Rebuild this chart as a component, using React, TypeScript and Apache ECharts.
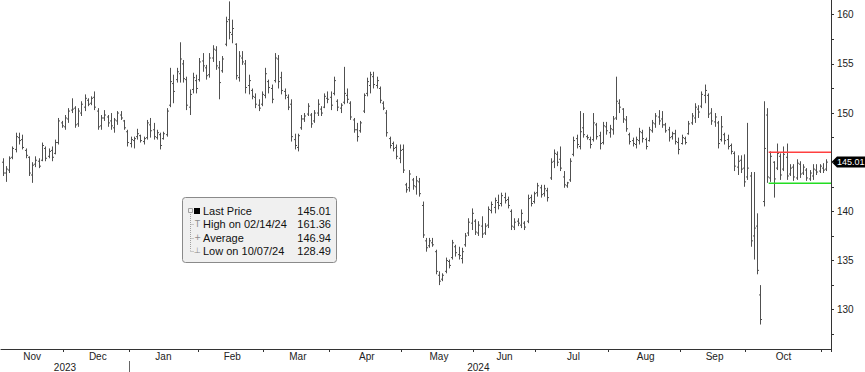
import React, { useEffect, useRef } from 'react';
import * as echarts from 'echarts';

// ---- Data ----
const START_DATE = '2023-11-03';
const END_DATE = '2024-11-04';
const HOLIDAYS = ['2023-11-23', '2023-12-25', '2024-01-01', '2024-01-15', '2024-02-19', '2024-03-29', '2024-05-27', '2024-06-19', '2024-07-04', '2024-09-02'];
const MONTHS = ['Jan', 'Feb', 'Mar', 'Apr', 'May', 'Jun', 'Jul', 'Aug', 'Sep', 'Oct', 'Nov', 'Dec'];

const OPEN = [
  145.0, 143.9, 144.2, 145.5, 146.3, 147.5, 147.3, 146.2, 145.5, 143.7,
  144.8, 145.1, 145.2, 146.4, 145.6, 146.2, 145.9, 147.0, 149.0, 148.6,
  149.4, 150.3, 150.5, 148.9, 150.0, 150.6, 151.3, 151.0, 151.6, 150.2,
  148.7, 149.5, 149.6, 149.2, 148.5, 149.2, 149.8, 149.2, 148.1, 146.9,
  147.2, 147.6, 147.7, 147.1, 147.5, 148.8, 148.3, 147.5, 147.8, 147.4,
  147.8, 150.8, 153.0, 153.4, 154.0, 155.0, 153.4, 150.6, 152.4, 153.3,
  153.4, 155.3, 154.6, 153.9, 155.6, 156.4, 154.6, 154.3, 157.0, 159.5,
  158.0, 157.0, 153.6, 155.6, 155.0, 152.8, 152.3, 151.6, 150.8, 150.9,
  151.8, 153.2, 152.5, 153.3, 155.5, 153.6, 152.2, 151.6, 150.9, 147.3,
  146.5, 148.5, 149.4, 149.9, 149.8, 149.2, 150.0, 150.4, 150.6, 151.5,
  151.6, 152.0, 151.2, 150.5, 151.1, 151.8, 151.0, 149.3, 148.3, 148.2,
  150.2, 152.0, 152.8, 153.7, 152.8, 152.5, 151.0, 150.0, 147.4, 146.9,
  146.5, 145.4, 146.3, 142.7, 142.4, 143.2, 142.5, 143.0, 140.6, 137.0,
  136.5, 136.8, 135.9, 133.5, 133.1, 133.9, 134.9, 135.3, 136.4, 135.6,
  135.2, 136.6, 137.8, 138.8, 139.0, 137.8, 138.5, 137.8, 138.6, 140.1,
  140.4, 140.9, 140.8, 141.4, 141.2, 140.0, 138.4, 139.0, 138.6, 138.8,
  139.0, 141.4, 141.0, 141.9, 142.4, 141.8, 142.1, 143.4, 145.1, 145.8,
  145.3, 143.5, 142.6, 143.2, 145.8, 147.4, 146.6, 148.5, 147.6, 147.3,
  147.3, 148.8, 147.7, 147.0, 148.6, 148.0, 148.3, 149.5, 151.0, 150.4,
  149.3, 147.8, 147.2, 146.8, 147.2, 148.0, 147.3, 147.2, 148.2, 148.9,
  149.6, 149.4, 148.8, 148.3, 147.6, 147.9, 147.0, 146.9, 147.4, 147.9,
  149.0, 149.5, 150.4, 150.7, 151.8, 151.8, 150.0, 149.1, 149.0, 147.3,
  147.8, 147.3, 146.7, 145.9, 144.5, 145.2, 144.4, 143.5, 143.6, 137.5,
  138.5, 131.5, 141.0, 149.8, 143.4, 145.0, 144.4, 145.6, 144.3, 145.5,
  143.8, 144.5, 143.4, 144.8, 143.9, 144.2, 143.3, 143.6, 144.2, 144.1,
  144.4, 144.3,
];

const HIGH = [
  145.4, 144.6, 145.6, 146.6, 148.0, 148.0, 147.8, 146.4, 145.6, 145.0,
  145.6, 145.4, 147.0, 146.6, 146.4, 146.6, 147.3, 149.5, 149.2, 149.8,
  150.5, 151.5, 150.7, 150.5, 151.2, 151.9, 151.5, 151.7, 152.2, 150.5,
  149.8, 150.3, 149.8, 150.0, 149.5, 150.2, 150.2, 149.3, 148.3, 147.6,
  147.6, 148.4, 147.8, 147.6, 149.3, 149.5, 149.0, 148.3, 148.0, 148.1,
  150.5, 154.6, 153.9, 154.6, 157.2, 155.4, 153.7, 152.4, 154.1, 153.9,
  155.6, 156.1, 154.9, 156.1, 156.9, 156.8, 155.3, 155.8, 159.8, 161.36,
  159.5, 157.1, 156.3, 156.3, 155.4, 153.9, 152.5, 152.0, 151.4, 152.2,
  154.6, 153.4, 152.9, 156.1, 155.9, 154.2, 152.5, 151.9, 151.4, 147.9,
  147.9, 149.8, 150.0, 151.0, 150.0, 150.3, 151.4, 150.7, 152.0, 152.2,
  152.2, 153.7, 151.4, 151.0, 154.7, 152.5, 151.2, 149.5, 149.0, 149.2,
  152.0, 153.6, 154.2, 154.2, 153.7, 152.7, 151.2, 150.3, 147.6, 147.1,
  146.8, 146.8, 146.8, 142.9, 144.2, 143.4, 143.6, 143.4, 141.0, 137.3,
  137.3, 137.3, 136.1, 133.9, 133.7, 135.3, 135.1, 137.1, 136.6, 136.4,
  136.3, 137.8, 139.3, 140.3, 139.2, 139.0, 139.5, 138.8, 140.5, 141.0,
  141.4, 141.7, 141.9, 141.9, 141.5, 140.2, 139.3, 139.3, 140.2, 139.0,
  141.7, 141.7, 142.0, 142.9, 142.7, 142.7, 142.4, 145.4, 146.3, 146.1,
  146.6, 144.1, 143.0, 145.4, 147.6, 147.8, 150.2, 150.0, 147.8, 147.6,
  150.0, 149.0, 148.1, 149.1, 149.1, 148.8, 149.7, 153.7, 151.4, 150.5,
  149.7, 148.0, 147.5, 147.6, 148.5, 148.3, 147.5, 148.6, 149.3, 150.0,
  150.3, 150.2, 149.0, 148.6, 148.1, 148.3, 147.5, 147.8, 147.6, 149.2,
  150.0, 151.0, 150.8, 152.2, 152.9, 152.0, 150.5, 150.0, 149.2, 149.7,
  148.0, 147.8, 146.9, 146.1, 145.7, 145.7, 145.8, 149.0, 144.0, 144.0,
  139.8, 132.5, 151.2, 150.5, 146.1, 145.1, 146.9, 145.9, 146.6, 146.9,
  144.8, 144.8, 145.3, 145.1, 144.8, 144.4, 144.2, 144.8, 144.8, 144.8,
  144.9, 145.3,
];

const LOW = [
  143.6, 143.0, 143.9, 145.3, 146.0, 146.8, 146.3, 145.4, 143.6, 142.9,
  144.5, 144.4, 145.1, 145.1, 145.4, 145.1, 145.8, 146.8, 148.5, 148.3,
  149.0, 150.0, 148.5, 148.6, 149.7, 150.2, 150.7, 150.8, 150.3, 148.3,
  148.3, 149.2, 148.6, 148.3, 148.0, 148.8, 149.3, 148.3, 146.6, 146.5,
  146.4, 147.3, 147.0, 146.8, 147.3, 147.5, 147.3, 147.3, 146.3, 147.3,
  147.6, 150.6, 151.0, 153.1, 153.1, 153.1, 150.3, 149.8, 152.0, 152.0,
  153.2, 154.2, 153.4, 153.6, 155.2, 154.4, 151.4, 154.1, 156.8, 157.5,
  157.1, 153.4, 153.2, 154.9, 152.0, 151.9, 151.4, 150.5, 150.2, 150.7,
  151.5, 152.0, 151.0, 153.1, 152.5, 151.9, 151.4, 150.3, 147.1, 146.3,
  146.1, 148.3, 149.1, 149.7, 148.5, 149.0, 149.7, 149.7, 150.5, 151.0,
  150.3, 151.8, 150.2, 150.0, 150.9, 151.0, 149.3, 148.0, 147.1, 148.0,
  150.0, 151.7, 152.0, 152.5, 152.5, 151.0, 150.3, 147.6, 146.4, 146.1,
  145.3, 144.9, 143.9, 141.9, 142.0, 142.2, 141.7, 141.5, 137.3, 135.9,
  136.3, 136.4, 133.6, 132.5, 132.9, 133.7, 134.2, 135.1, 135.4, 135.1,
  134.7, 136.4, 137.5, 138.1, 137.6, 137.5, 137.3, 137.6, 138.3, 139.8,
  139.8, 140.2, 140.5, 140.8, 140.3, 138.1, 138.1, 138.5, 138.3, 138.1,
  138.8, 140.5, 140.8, 141.5, 141.4, 141.5, 141.0, 143.2, 144.4, 144.6,
  144.1, 142.4, 142.4, 143.0, 145.6, 146.4, 146.3, 147.5, 147.3, 146.4,
  147.1, 147.3, 146.3, 146.8, 147.8, 147.5, 147.8, 149.3, 150.0, 149.0,
  148.1, 146.8, 146.6, 146.4, 146.8, 147.0, 146.3, 147.1, 148.0, 148.5,
  148.8, 148.5, 148.0, 147.1, 147.3, 146.8, 145.8, 146.8, 146.8, 147.8,
  148.8, 149.0, 149.5, 150.5, 151.0, 149.5, 148.8, 148.6, 146.4, 147.1,
  146.8, 146.3, 145.8, 144.1, 143.7, 143.9, 142.5, 143.2, 136.4, 135.1,
  133.6, 128.49, 140.5, 142.9, 143.0, 141.4, 144.2, 143.2, 144.1, 143.2,
  143.6, 143.1, 143.2, 143.4, 143.7, 143.1, 143.1, 143.2, 143.7, 143.9,
  143.9, 144.1,
];

const CLOSE = [
  143.9, 144.3, 145.4, 146.4, 147.6, 147.2, 146.5, 145.7, 143.9, 144.7,
  145.2, 144.6, 146.7, 145.4, 146.1, 145.5, 147.0, 149.2, 148.7, 149.5,
  150.2, 150.4, 148.8, 150.2, 150.9, 151.5, 150.9, 151.5, 150.6, 148.6,
  149.5, 149.8, 149.0, 148.7, 149.3, 150.0, 149.5, 148.5, 147.0, 147.3,
  147.4, 147.9, 147.2, 147.4, 149.0, 148.2, 147.6, 148.0, 146.7, 147.9,
  150.2, 153.2, 152.2, 154.2, 155.5, 153.5, 150.8, 151.9, 153.6, 152.5,
  155.2, 154.8, 153.8, 155.6, 156.5, 154.8, 153.1, 155.5, 159.3, 158.2,
  158.6, 153.8, 155.8, 155.2, 152.6, 153.3, 151.7, 150.9, 150.5, 151.9,
  154.0, 152.6, 151.4, 155.6, 153.2, 152.3, 151.8, 150.6, 147.6, 146.7,
  147.7, 149.4, 149.7, 150.7, 148.9, 150.0, 150.9, 150.0, 151.7, 151.4,
  150.8, 153.3, 150.6, 150.8, 152.0, 151.4, 149.6, 148.3, 147.6, 149.0,
  151.8, 153.2, 153.9, 152.9, 153.3, 151.3, 150.5, 148.0, 146.7, 146.4,
  145.6, 146.2, 144.2, 142.2, 143.8, 142.6, 143.1, 141.8, 137.6, 136.3,
  137.0, 136.6, 133.9, 132.9, 133.5, 135.0, 134.5, 136.8, 135.8, 135.5,
  135.9, 137.5, 138.9, 139.8, 137.9, 138.6, 137.7, 138.5, 140.2, 140.7,
  141.1, 140.6, 141.6, 141.1, 140.6, 138.5, 138.9, 138.8, 139.8, 138.4,
  141.3, 140.8, 141.8, 142.6, 141.7, 142.3, 141.4, 145.0, 145.9, 145.0,
  144.4, 142.7, 142.9, 145.1, 147.2, 146.8, 148.1, 147.8, 147.5, 146.8,
  149.0, 147.6, 146.9, 148.7, 148.2, 148.4, 149.4, 151.2, 150.6, 149.4,
  148.4, 147.1, 146.9, 147.3, 148.1, 147.4, 146.6, 148.3, 149.0, 149.7,
  149.2, 148.8, 148.2, 147.5, 147.9, 147.1, 146.3, 147.5, 147.0, 148.9,
  149.7, 150.6, 150.1, 151.9, 152.3, 149.9, 149.2, 149.6, 146.9, 148.6,
  147.2, 146.6, 146.1, 144.6, 145.1, 144.3, 143.0, 144.4, 137.0, 138.3,
  134.0, 129.0, 146.4, 143.5, 145.6, 143.3, 145.9, 143.7, 145.8, 143.6,
  144.4, 143.5, 144.9, 143.8, 144.5, 143.4, 143.9, 144.3, 144.0, 144.6,
  144.2, 145.01,
];

// 145 sits under the last-price tag in the reference, so it is not shown
const Y_LABEL_VALUES = [130, 135, 140, 150, 155, 160];
const Y_TICK_VALUES = [127.5, 130, 132.5, 135, 137.5, 140, 142.5, 145, 147.5, 150, 152.5, 155, 157.5, 160];

const LAST_PRICE = 145.01;
const RANGE_START = '2024-10-10';
const RANGE_HIGH = 146.04;
const RANGE_LOW = 142.84;

const LEGEND_LABELS = ['Last Price', 'High on 02/14/24', 'Average', 'Low on 10/07/24'];
const LEGEND_VALUES = ['145.01', '161.36', '146.94', '128.49'];

// ---- helpers ----
const pad = (n: number) => (n < 10 ? '0' + n : '' + n);
function tradingDays(start: string, end: string): string[] {
  const out: string[] = [];
  const [sy, sm, sd] = start.split('-').map(Number);
  const [ey, em, ed] = end.split('-').map(Number);
  let t = Date.UTC(sy, sm - 1, sd);
  const tEnd = Date.UTC(ey, em - 1, ed);
  while (t <= tEnd) {
    const d = new Date(t);
    const wd = d.getUTCDay();
    const s = d.getUTCFullYear() + '-' + pad(d.getUTCMonth() + 1) + '-' + pad(d.getUTCDate());
    if (wd !== 0 && wd !== 6 && HOLIDAYS.indexOf(s) < 0) out.push(s);
    t += 86400000;
  }
  return out;
}

const FONT = '"Liberation Sans", Arial, sans-serif';
const BAR_COLOR = '#505050';
const AXIS_COLOR = '#333';
const RED = '#ff4040';
const GREEN = '#22dd22';

export default function App() {
  const ref = useRef<HTMLDivElement>(null);

  useEffect(() => {
    if (!ref.current) return;
    const chart = echarts.init(ref.current, undefined, { renderer: 'svg' });

    const dates = tradingDays(START_DATE, END_DATE);
    const cats = [...dates, ''];

    const monthStart = new Set<number>();
    const monthLabel = new Map<number, string>();
    const yearLabel = new Map<number, string>();
    let gStart = 0;
    for (let i = 1; i <= dates.length; i++) {
      if (i === dates.length || dates[i].slice(0, 7) !== dates[i - 1].slice(0, 7)) {
        const count = i - gStart;
        if (count >= 5) {
          const mid = Math.round((gStart + i - 1) / 2);
          monthLabel.set(mid, MONTHS[Number(dates[gStart].slice(5, 7)) - 1]);
        }
        if (i < dates.length) monthStart.add(i);
        gStart = i;
      }
    }
    let yStart = 0;
    let yearBoundary = -1;
    for (let i = 1; i <= dates.length; i++) {
      if (i === dates.length || dates[i].slice(0, 4) !== dates[i - 1].slice(0, 4)) {
        const mid = Math.round((yStart + i - 1) / 2);
        yearLabel.set(mid, dates[yStart].slice(0, 4));
        if (i < dates.length) yearBoundary = i;
        yStart = i;
      }
    }

    const seriesData = dates.map((d, i) => [i, OPEN[i], HIGH[i], LOW[i], CLOSE[i]]);

    const renderItem = (params: any, api: any) => {
      const i = api.value(0);
      const pO = api.coord([i, api.value(1)]);
      const pH = api.coord([i, api.value(2)]);
      const pL = api.coord([i, api.value(3)]);
      const pC = api.coord([i, api.value(4)]);
      const x = Math.round(pH[0]) + 0.5;
      const st = { stroke: BAR_COLOR, lineWidth: 1 };
      return {
        type: 'group',
        children: [
          { type: 'line', shape: { x1: x, y1: pH[1], x2: x, y2: pL[1] }, style: st },
          { type: 'line', shape: { x1: x - 1.5, y1: pO[1], x2: x, y2: pO[1] }, style: st },
          { type: 'line', shape: { x1: x, y1: pC[1], x2: x + 1.5, y2: pC[1] }, style: st },
        ],
      };
    };

    const option: any = {
      animation: false,
      grid: { left: 1, right: 34, top: 0, bottom: 23, containLabel: false },
      xAxis: [
        {
          type: 'category',
          data: cats,
          boundaryGap: true,
          axisLine: { show: true, lineStyle: { color: AXIS_COLOR, width: 1 } },
          axisTick: { show: true, length: 3, interval: (i: number) => monthStart.has(i), lineStyle: { color: AXIS_COLOR } },
          axisLabel: {
            interval: (i: number) => monthLabel.has(i),
            formatter: (_v: string, i: number) => monthLabel.get(i) || '',
            fontSize: 10,
            fontFamily: FONT,
            color: '#222',
            margin: 2,
          },
          splitLine: { show: false },
        },
        {
          type: 'category',
          data: cats,
          position: 'bottom',
          offset: 12,
          axisLine: { show: false },
          axisTick: { show: false },
          axisLabel: {
            interval: (i: number) => yearLabel.has(i),
            formatter: (_v: string, i: number) => yearLabel.get(i) || '',
            fontSize: 10,
            fontFamily: FONT,
            color: '#222',
            margin: 1,
          },
          splitLine: { show: false },
        },
      ],
      yAxis: {
        type: 'value',
        position: 'right',
        min: 126,
        max: 161.5,
        axisLine: { show: true, lineStyle: { color: AXIS_COLOR, width: 1 } },
        axisTick: { show: true, length: 3, customValues: Y_TICK_VALUES, lineStyle: { color: AXIS_COLOR } },
        axisLabel: { customValues: Y_LABEL_VALUES, fontSize: 10, fontFamily: FONT, color: '#222', margin: 6 },
        splitLine: { show: false },
      },
      series: [
        {
          type: 'custom',
          renderItem,
          data: seriesData,
          encode: { x: 0, y: [1, 2, 3, 4] },
          clip: true,
        },
      ],
    };

    chart.setOption(option);

    const toX = (i: number) => chart.convertToPixel({ xAxisIndex: 0 }, i) as number;
    const toY = (v: number) => chart.convertToPixel({ yAxisIndex: 0 }, v) as number;
    const band = toX(1) - toX(0);
    const axisRight = chart.getWidth() - 34;
    const gridBottom = chart.getHeight() - 23;
    const yLast = toY(LAST_PRICE);
    const xYear = toX(yearBoundary) - band / 2;
    const xRange = toX(dates.indexOf(RANGE_START)) - band / 2;
    const yHi = toY(RANGE_HIGH);
    const yLo = toY(RANGE_LOW);

    const rowY = [211, 224, 237.5, 250.5];
    const legendChildren: any[] = [
      { type: 'rect', shape: { x: 182.5, y: 197.5, width: 154, height: 65, r: 3 }, style: { fill: '#f0f0f0', stroke: '#8a8a8a', lineWidth: 1 } },
      { type: 'line', shape: { x1: 190.5, y1: 212, x2: 190.5, y2: rowY[3] }, style: { stroke: '#a0a0a0', lineWidth: 1, lineDash: [1, 1] } },
      { type: 'rect', shape: { x: 188.5, y: 208.5, width: 4, height: 4 }, style: { fill: 'none', stroke: '#a0a0a0', lineWidth: 1 } },
      { type: 'rect', shape: { x: 194, y: 208, width: 6, height: 6 }, style: { fill: '#000' } },
    ];
    const glyphs = ['', 'T', '+', '\u22A5'];
    for (let r = 1; r < 4; r++) {
      legendChildren.push({ type: 'line', shape: { x1: 190.5, y1: Math.round(rowY[r]) + 0.5, x2: 194, y2: Math.round(rowY[r]) + 0.5 }, style: { stroke: '#a0a0a0', lineWidth: 1, lineDash: [1, 1] } });
      legendChildren.push({ type: 'text', x: 197.5, y: rowY[r], style: { text: glyphs[r], fill: '#8a8a8a', fontSize: 8, fontFamily: '"DejaVu Sans", sans-serif', align: 'center', verticalAlign: 'middle' } });
    }
    for (let r = 0; r < 4; r++) {
      legendChildren.push({ type: 'text', x: 203, y: rowY[r], style: { text: LEGEND_LABELS[r], fill: '#111', fontSize: 11, fontFamily: FONT, align: 'left', verticalAlign: 'middle' } });
      legendChildren.push({ type: 'text', x: 331, y: rowY[r], style: { text: LEGEND_VALUES[r], fill: '#111', fontSize: 11, fontFamily: FONT, align: 'right', verticalAlign: 'middle' } });
    }

    chart.setOption({
      graphic: [
        {
          type: 'rect',
          shape: { x: xRange, y: Math.round(yHi) - 0.5, width: axisRight - xRange, height: 1.5 },
          style: { fill: RED },
          silent: true,
          z: 50,
        },
        {
          type: 'rect',
          shape: { x: xRange, y: Math.round(yLo) - 0.5, width: axisRight - xRange, height: 1.5 },
          style: { fill: GREEN },
          silent: true,
          z: 50,
        },
        {
          type: 'line',
          shape: { x1: Math.round(xYear) + 0.5, y1: gridBottom + 12, x2: Math.round(xYear) + 0.5, y2: chart.getHeight() },
          style: { stroke: '#666', lineWidth: 1 },
          silent: true,
        },
        {
          type: 'polygon',
          shape: { points: [[axisRight + 0.5, yLast], [axisRight + 6, yLast - 5.5], [865, yLast - 5.5], [865, yLast + 5.5], [axisRight + 6, yLast + 5.5]] },
          style: { fill: '#000' },
          silent: true,
        },
        {
          type: 'text',
          x: axisRight + 6,
          y: yLast,
          style: { text: LAST_PRICE.toFixed(2), fill: '#fff', fontSize: 9, fontFamily: FONT, align: 'left', verticalAlign: 'middle' },
          silent: true,
        },
        { type: 'group', children: legendChildren, silent: true },
      ],
    });

    return () => chart.dispose();
  }, []);

  return <div ref={ref} style={{ position: 'fixed', left: 0, top: 0, width: 865, height: 372, background: '#fff' }} />;
}
